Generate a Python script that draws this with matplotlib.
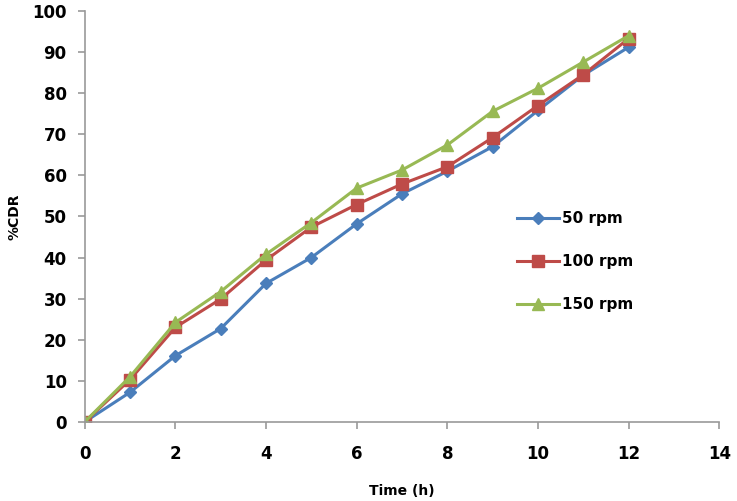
import matplotlib
matplotlib.use('Agg')
import matplotlib.pyplot as plt

time_h = [0, 1, 2, 3, 4, 5, 6, 7, 8, 9, 10, 11, 12]
cdr_50 = [0, 7.2, 16.1, 22.7, 33.7, 40.0, 48.2, 55.5, 61.0, 67.0, 75.8, 84.4, 91.2]
cdr_100 = [0, 10.3, 23.0, 29.9, 39.4, 47.4, 52.9, 57.9, 62.1, 69.2, 77.0, 84.5, 93.3]
cdr_150 = [0, 11.0, 24.2, 31.7, 40.8, 48.5, 56.9, 61.3, 67.4, 75.6, 81.2, 87.6, 94.0]

fig = plt.figure(figsize=(7.37, 5.01), dpi=100)
ax = fig.add_axes([0.115, 0.158, 0.861, 0.82])

ax.plot(time_h, cdr_50, color='#4A7EBB', marker='D', markersize=6, linewidth=2.2, label='50 rpm')
ax.plot(time_h, cdr_100, color='#BE4B48', marker='s', markersize=8, linewidth=2.2, label='100 rpm')
ax.plot(time_h, cdr_150, color='#98B954', marker='^', markersize=9, linewidth=2.2, label='150 rpm')

ax.set_xlim(0, 14)
ax.set_ylim(0, 100)
ax.set_xticks(range(0, 15, 2))
ax.set_yticks(range(0, 101, 10))

for side in ['top', 'right']:
    ax.spines[side].set_visible(False)
for side in ['left', 'bottom']:
    ax.spines[side].set_color('#999999')
    ax.spines[side].set_linewidth(1.2)
ax.tick_params(colors='#999999', labelcolor='black', length=5, width=1.2)
ax.tick_params(axis='x', pad=12)
ax.tick_params(axis='y', pad=8)
for lbl in ax.get_xticklabels() + ax.get_yticklabels():
    lbl.set_fontweight('bold')
    lbl.set_fontsize(12)

ax.set_xlabel('Time (h)', fontweight='bold', fontsize=10, labelpad=15)
ax.set_ylabel('%CDR', fontweight='bold', fontsize=10, labelpad=8)

leg = ax.legend(loc='center left', bbox_to_anchor=(0.66, 0.39), frameon=False,
                prop={'weight': 'bold', 'size': 11}, labelspacing=1.85,
                handlelength=2.7, handletextpad=0.25)

fig.savefig('out.png', dpi=100)
